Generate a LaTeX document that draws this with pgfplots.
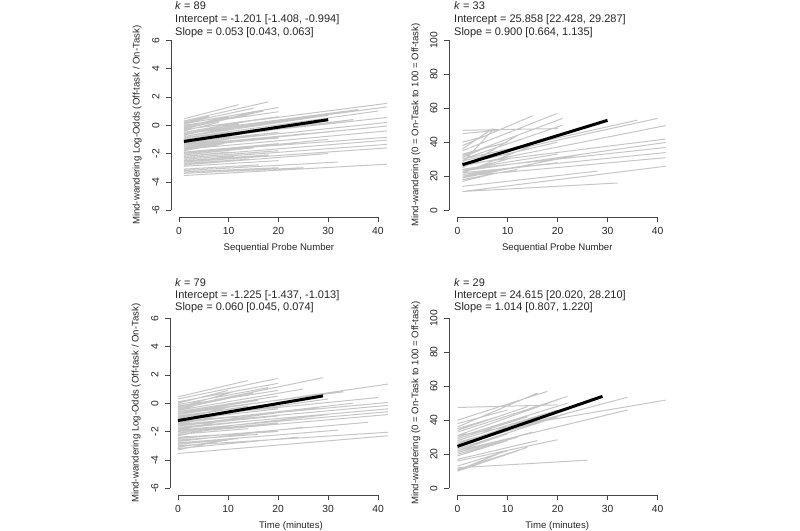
\documentclass[border=0pt]{standalone}
\usepackage{fontspec}
\setmainfont{Liberation Sans}
\usepackage{pgfplots}
\pgfplotsset{compat=1.18}
\usepackage{pgfplotstable}
\definecolor{lgray}{RGB}{198,198,198}
\definecolor{axgray}{RGB}{70,70,70}

% individual regression lines, panel 1 (probe number, log-odds)
\pgfplotstableread[row sep=\\]{
x y \\
1 0.45 \\ 12 1.45 \\ nan nan \\
1 0.3 \\ 18 1.65 \\ nan nan \\
1 0.1 \\ 20 1.25 \\ nan nan \\
1 0.0 \\ 20 0.95 \\ nan nan \\
1 -0.2 \\ 15 0.9 \\ nan nan \\
1 -0.3 \\ 20 0.6 \\ nan nan \\
1 -0.5 \\ 16 0.4 \\ nan nan \\
1 -0.6 \\ 20 0.2 \\ nan nan \\
1 -0.8 \\ 14 0.0 \\ nan nan \\
1 -0.9 \\ 20 -0.2 \\ nan nan \\
1 -1.0 \\ 18 -0.4 \\ nan nan \\
1 -1.2 \\ 20 -0.5 \\ nan nan \\
1 -1.4 \\ 16 -0.7 \\ nan nan \\
1 -1.5 \\ 20 -0.9 \\ nan nan \\
1 -1.7 \\ 12 -1.1 \\ nan nan \\
1 -1.9 \\ 20 -1.3 \\ nan nan \\
1 -2.1 \\ 15 -1.6 \\ nan nan \\
1 -2.3 \\ 20 -1.8 \\ nan nan \\
1 -2.5 \\ 18 -2.1 \\ nan nan \\
1 -2.7 \\ 14 -2.4 \\ nan nan \\
1 -2.9 \\ 20 -2.5 \\ nan nan \\
1 -3.1 \\ 16 -2.8 \\ nan nan \\
1 -3.3 \\ 20 -3.0 \\ nan nan \\
1 -0.1 \\ 10 0.6 \\ nan nan \\
1 -0.4 \\ 8 0.2 \\ nan nan \\
1 -1.1 \\ 10 -0.5 \\ nan nan \\
1 -1.8 \\ 9 -1.3 \\ nan nan \\
1 0.2 \\ 6 0.6 \\ nan nan \\
1 -2.2 \\ 10 -1.9 \\ nan nan \\
1 -0.7 \\ 12 0.1 \\ nan nan \\
1 0.15 \\ 15 1.2 \\ nan nan \\
1 -0.25 \\ 17 1.0 \\ nan nan \\
1 -1.3 \\ 13 -0.6 \\ nan nan \\
1 -2.0 \\ 17 -1.4 \\ nan nan \\
1 -2.6 \\ 11 -2.2 \\ nan nan \\
1 -0.3 \\ 42 1.55 \\ nan nan \\
1 -0.6 \\ 42 1.3 \\ nan nan \\
1 -0.9 \\ 40 1.0 \\ nan nan \\
1 -0.5 \\ 36 1.1 \\ nan nan \\
1 -1.0 \\ 42 0.55 \\ nan nan \\
1 -1.3 \\ 42 0.2 \\ nan nan \\
1 -1.5 \\ 42 -0.05 \\ nan nan \\
1 -1.7 \\ 42 -0.4 \\ nan nan \\
1 -1.9 \\ 42 -0.85 \\ nan nan \\
1 -2.2 \\ 42 -1.05 \\ nan nan \\
1 -2.4 \\ 42 -1.35 \\ nan nan \\
1 -2.6 \\ 42 -1.6 \\ nan nan \\
1 -3.55 \\ 42 -2.75 \\ nan nan \\
1 -3.2 \\ 32 -2.6 \\ nan nan \\
1 -0.8 \\ 30 0.7 \\ nan nan \\
1 -1.2 \\ 28 0.2 \\ nan nan \\
1 -2.0 \\ 30 -1.0 \\ nan nan \\
1 -2.8 \\ 30 -2.0 \\ nan nan \\
1 -1.6 \\ 25 -0.6 \\ nan nan \\
1 -3.4 \\ 25 -3.0 \\ nan nan \\
1 -1.1 \\ 35 0.4 \\ nan nan \\
1 -1.4 \\ 38 -0.2 \\
}\pA

% panel 2 (probe number, 0-100 scale)
\pgfplotstableread[row sep=\\]{
x y \\
1 47 \\ 20 48 \\ nan nan \\
1 38 \\ 15 55.5 \\ nan nan \\
1 35 \\ 20 57 \\ nan nan \\
1 32 \\ 21 54 \\ nan nan \\
1 30 \\ 21 50 \\ nan nan \\
1 36 \\ 7 48 \\ nan nan \\
1 28 \\ 7 47 \\ nan nan \\
1 25 \\ 12 44 \\ nan nan \\
1 22 \\ 15 38 \\ nan nan \\
1 33 \\ 10 40 \\ nan nan \\
1 27 \\ 20 40 \\ nan nan \\
1 24 \\ 20 33 \\ nan nan \\
1 21 \\ 20 28 \\ nan nan \\
1 20 \\ 15 27 \\ nan nan \\
1 18 \\ 12 24 \\ nan nan \\
1 17 \\ 8 22 \\ nan nan \\
1 23 \\ 10 30 \\ nan nan \\
1 11 \\ 42 26 \\ nan nan \\
1 11 \\ 32 16 \\ nan nan \\
1 14 \\ 28 23 \\ nan nan \\
1 30 \\ 36 53 \\ nan nan \\
1 29 \\ 40 54 \\ nan nan \\
1 26 \\ 42 50 \\ nan nan \\
1 27 \\ 42 42 \\ nan nan \\
1 23 \\ 42 40 \\ nan nan \\
1 24 \\ 42 37 \\ nan nan \\
1 22 \\ 42 34 \\ nan nan \\
1 20 \\ 42 31 \\ nan nan \\
1 19 \\ 25 33 \\ nan nan \\
1 31 \\ 5 36 \\ nan nan \\
1 40 \\ 6 44 \\ nan nan \\
1 26 \\ 5 30 \\ nan nan \\
1 45 \\ 8 47 \\
}\pB

% panel 3 (time, log-odds)
\pgfplotstableread[row sep=\\]{
x y \\
0 0.45 \\ 14 1.6 \\ nan nan \\
0 0.3 \\ 20 1.75 \\ nan nan \\
0 0.1 \\ 20 1.4 \\ nan nan \\
0 -0.1 \\ 18 1.1 \\ nan nan \\
0 -0.2 \\ 20 0.9 \\ nan nan \\
0 -0.4 \\ 15 0.7 \\ nan nan \\
0 -0.6 \\ 20 0.5 \\ nan nan \\
0 -0.7 \\ 16 0.2 \\ nan nan \\
0 -0.9 \\ 20 0.0 \\ nan nan \\
0 -1.0 \\ 14 -0.2 \\ nan nan \\
0 -1.2 \\ 20 -0.4 \\ nan nan \\
0 -1.4 \\ 18 -0.7 \\ nan nan \\
0 -1.6 \\ 20 -0.9 \\ nan nan \\
0 -1.8 \\ 16 -1.2 \\ nan nan \\
0 -2.0 \\ 20 -1.4 \\ nan nan \\
0 -2.2 \\ 14 -1.8 \\ nan nan \\
0 -2.4 \\ 20 -2.0 \\ nan nan \\
0 -2.6 \\ 16 -2.2 \\ nan nan \\
0 -2.9 \\ 12 -2.5 \\ nan nan \\
0 -3.1 \\ 10 -2.6 \\ nan nan \\
0 -3.3 \\ 8 -2.7 \\ nan nan \\
0 0.0 \\ 10 0.9 \\ nan nan \\
0 -0.5 \\ 8 0.3 \\ nan nan \\
0 -1.1 \\ 10 -0.3 \\ nan nan \\
0 -1.5 \\ 9 -0.8 \\ nan nan \\
0 -2.3 \\ 10 -1.6 \\ nan nan \\
0 -0.3 \\ 12 0.9 \\ nan nan \\
0 -1.9 \\ 12 -1.0 \\ nan nan \\
0 -0.3 \\ 29 1.8 \\ nan nan \\
0 -0.7 \\ 33 0.8 \\ nan nan \\
0 -0.8 \\ 42 1.35 \\ nan nan \\
0 -1.0 \\ 40 0.4 \\ nan nan \\
0 -1.3 \\ 42 0.05 \\ nan nan \\
0 -1.5 \\ 42 -0.15 \\ nan nan \\
0 -1.7 \\ 42 -0.4 \\ nan nan \\
0 -1.9 \\ 42 -0.6 \\ nan nan \\
0 -2.1 \\ 42 -0.8 \\ nan nan \\
0 -2.5 \\ 38 -1.35 \\ nan nan \\
0 -3.0 \\ 42 -2.05 \\ nan nan \\
0 -3.55 \\ 42 -2.3 \\ nan nan \\
0 -1.2 \\ 30 0.3 \\ nan nan \\
0 -1.6 \\ 28 -0.3 \\ nan nan \\
0 -2.0 \\ 30 -0.8 \\ nan nan \\
0 -2.7 \\ 25 -1.7 \\ nan nan \\
0 -3.2 \\ 24 -2.4 \\ nan nan \\
0 -0.5 \\ 25 1.0 \\ nan nan \\
0 -2.8 \\ 32 -1.9 \\ nan nan \\
0 -1.4 \\ 35 0.0 \\
}\pC

% panel 4 (time, 0-100 scale)
\pgfplotstableread[row sep=\\]{
x y \\
0 47.5 \\ 20 49 \\ nan nan \\
0 40 \\ 18 57 \\ nan nan \\
0 36 \\ 16 56 \\ nan nan \\
0 33 \\ 22 54 \\ nan nan \\
0 31 \\ 20 52 \\ nan nan \\
0 30 \\ 22 50 \\ nan nan \\
0 28 \\ 20 46 \\ nan nan \\
0 26 \\ 18 44 \\ nan nan \\
0 25 \\ 22 44 \\ nan nan \\
0 23 \\ 20 42 \\ nan nan \\
0 31 \\ 42 52 \\ nan nan \\
0 27 \\ 34 53.5 \\ nan nan \\
0 22 \\ 34 46 \\ nan nan \\
0 21 \\ 15 33 \\ nan nan \\
0 20 \\ 12 30 \\ nan nan \\
0 17 \\ 16 28 \\ nan nan \\
0 16 \\ 20 28.5 \\ nan nan \\
0 12 \\ 26 16.5 \\ nan nan \\
0 11 \\ 14 24 \\ nan nan \\
0 10 \\ 12 22 \\ nan nan \\
0 10.5 \\ 8 20 \\ nan nan \\
0 35 \\ 8 42 \\ nan nan \\
0 38 \\ 10 46 \\ nan nan \\
0 24 \\ 6 30 \\ nan nan \\
0 29 \\ 14 42 \\ nan nan \\
0 22 \\ 10 32 \\ nan nan \\
0 19 \\ 10 28 \\ nan nan \\
0 13 \\ 10 22 \\ nan nan \\
0 34 \\ 14 48 \\
}\pD

\tikzset{axline/.style={axgray, line width=0.7pt}}
\pgfplotsset{
  rstyle/.style={
    axis lines*=left,
    axis line style={draw=none},
    tick align=outside,
    major tick length=5pt,
    tick style={axgray, line width=0.7pt},
    xtick={0,10,20,30,40},
    xticklabels={0,10,20,30,40},
    clip mode=individual,
    ticklabel style={font=\fontsize{10.3}{12}\selectfont, text=black!85},
    label style={font=\fontsize{9.6}{12}\selectfont, text=black!85},
    yticklabel style={rotate=90, anchor=south},
    yticklabel shift=3pt,
    xticklabel shift=2pt,
    xlabel style={at={(axis description cs:0.5,-0.167)}, anchor=center},
    unbounded coords=jump,
  },
  logodds/.style={
    y=14.167pt, ymin=-6.48, ymax=6.48,
    ytick={-6,-4,-2,0,2,4,6}, yticklabels={-6,-4,-2,0,2,4,6},
    ylabel={Mind-wandering Log-Odds (Off-task / On-Task)},
  },
  pct/.style={
    y=1.7pt, ymin=-4, ymax=104,
    ytick={0,20,40,60,80,100}, yticklabels={0,20,40,60,80,100},
    ylabel={Mind-wandering (0 = On-Task to 100 = Off-task)},
  },
  indiv/.style={color=lgray, line width=1.0pt},
  meanline/.style={black, line width=3pt},
}

\begin{document}
\begin{tikzpicture}
\path[use as bounding box] (0pt,0pt) rectangle (800pt,530pt);

% ---------------- panel 1
\begin{axis}[rstyle, logodds, at={(171pt,313pt)}, anchor=south west,
  x=4.975pt, xmin=-1.6, xmax=41.8,
  xlabel={Sequential Probe Number},
  ylabel style={at={(axis description cs:-0.157,0.5)}, anchor=center}]
\addplot[indiv] table[x=x, y=y] {\pA};
\addplot[meanline] coordinates {(1,-1.148) (30,0.389)};
\draw[axline] (axis cs:0,-6.48) -- (axis cs:40,-6.48);
\draw[axline] (axis cs:-1.6,-6) -- (axis cs:-1.6,6);
\end{axis}

% ---------------- panel 2
\begin{axis}[rstyle, pct, at={(449pt,313pt)}, anchor=south west,
  x=5pt, xmin=-1.7, xmax=41.6,
  xlabel={Sequential Probe Number},
  ylabel style={at={(axis description cs:-0.153,0.5)}, anchor=center}]
\addplot[indiv] table[x=x, y=y] {\pB};
\addplot[meanline] coordinates {(1,26.76) (30,52.86)};
\draw[axline] (axis cs:0,-4) -- (axis cs:40,-4);
\draw[axline] (axis cs:-1.7,0) -- (axis cs:-1.7,100);
\end{axis}

% ---------------- panel 3
\begin{axis}[rstyle, logodds, at={(170pt,35pt)}, anchor=south west,
  x=5pt, xmin=-1.6, xmax=46.8,
  xlabel={Time (minutes)},
  ylabel style={at={(axis description cs:-0.14,0.5)}, anchor=center}]
\addplot[indiv] table[x=x, y=y] {\pC};
\addplot[meanline] coordinates {(0,-1.225) (29,0.515)};
\draw[axline] (axis cs:0,-6.48) -- (axis cs:40,-6.48);
\draw[axline] (axis cs:-1.6,-6) -- (axis cs:-1.6,6);
\end{axis}

% ---------------- panel 4
\begin{axis}[rstyle, pct, at={(449pt,35pt)}, anchor=south west,
  x=5pt, xmin=-1.7, xmax=41.6,
  xlabel={Time (minutes)},
  ylabel style={at={(axis description cs:-0.153,0.5)}, anchor=center}]
\addplot[indiv] table[x=x, y=y] {\pD};
\addplot[meanline] coordinates {(0,24.615) (29,54.02)};
\draw[axline] (axis cs:0,-4) -- (axis cs:40,-4);
\draw[axline] (axis cs:-1.7,0) -- (axis cs:-1.7,100);
\end{axis}

% ---------------- annotations
\begin{scope}[every node/.style={anchor=west, inner sep=0pt, font=\fontsize{11}{13}\selectfont, text=black!85}]
\node at (175pt,524pt) {\textit{k} = 89};
\node at (175pt,510.5pt) {Intercept = -1.201 [-1.408, -0.994]};
\node at (175pt,497.5pt) {Slope = 0.053 [0.043, 0.063]};
\node at (454pt,524pt) {\textit{k} = 33};
\node at (454pt,510.5pt) {Intercept = 25.858 [22.428, 29.287]};
\node at (454pt,497.5pt) {Slope = 0.900 [0.664, 1.135]};
\node at (175pt,247pt) {\textit{k} = 79};
\node at (175pt,234.5pt) {Intercept = -1.225 [-1.437, -1.013]};
\node at (175pt,222pt) {Slope = 0.060 [0.045, 0.074]};
\node at (454pt,247pt) {\textit{k} = 29};
\node at (454pt,234.5pt) {Intercept = 24.615 [20.020, 28.210]};
\node at (454pt,222pt) {Slope = 1.014 [0.807, 1.220]};
\end{scope}
\end{tikzpicture}
\end{document}
